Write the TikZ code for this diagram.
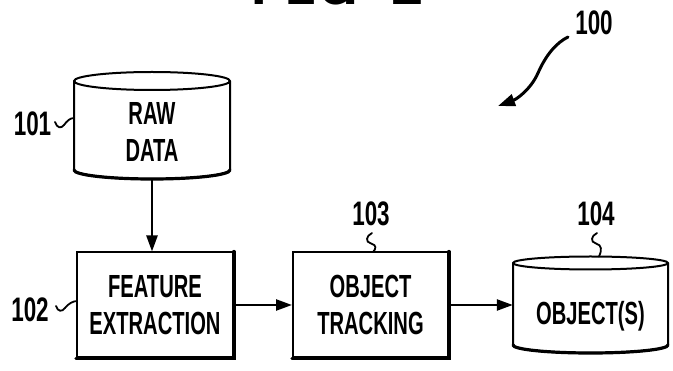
\documentclass[tikz,border=0pt]{standalone}
\usepackage{fontspec}
\usetikzlibrary{arrows.meta,calc}
\newfontfamily\boxfont[FakeStretch=0.63]{Liberation Sans Bold}
\newfontfamily\numfont[FakeStretch=0.66]{Liberation Sans Bold}
\newfontfamily\figfont{Liberation Mono Bold}
\tikzset{
  outline/.style={line width=2pt, line join=round},
  heavy/.style={line width=3.2pt, line cap=round},
  stepbox/.style={draw, line width=2pt, minimum width=156pt, minimum height=105pt,
    align=center, inner sep=0pt, font=\boxfont\fontsize{32}{37}\selectfont},
  storetext/.style={align=center, inner sep=0pt, font=\boxfont\fontsize{32}{37}\selectfont},
  refnum/.style={anchor=base, inner sep=0pt, font=\numfont\fontsize{34}{34}\selectfont},
  lead/.style={line width=1.8pt, line cap=round},
  flow/.style={line width=2.4pt, -{Triangle[length=16pt,width=11pt]}},
}
\begin{document}
\begin{tikzpicture}[x=1pt,y=-1pt]
\useasboundingbox (0,0) rectangle (673,371);
\clip (0,0) rectangle (673,371);
\fill[white] (0,0) rectangle (673,371);

% partially visible figure title
\node[anchor=base west, inner sep=0pt, font=\figfont\fontsize{57}{60}\selectfont] (fig) at (250,4.5) {FIG\kern-19pt.\kern-13pt~1};

% RAW DATA store
\node[storetext, minimum width=156pt, minimum height=94pt] (raw) at (152,132) {RAW\\DATA};
\draw[outline] (74,81) -- (74,170) arc[start angle=180,end angle=360,x radius=78pt,y radius=9pt] -- (230,81);
\draw[outline] (152,81) ellipse[x radius=78pt,y radius=9pt];
\draw[heavy] (74,170) arc[start angle=180,end angle=360,x radius=78pt,y radius=9pt];

% boxes
\node[stepbox] (fe) at (155,305) {FEATURE\\EXTRACTION};
\node[stepbox, minimum width=155pt] (tr) at (370.5,305) {OBJECT\\TRACKING};
\draw[heavy] (fe.north east) -- (fe.south east) -- (fe.south west);
\draw[heavy] (tr.north east) -- (tr.south east) -- (tr.south west);

% OBJECT(S) store
\node[storetext, minimum width=155pt, minimum height=79pt, text height=23pt, text depth=0pt] (objs) at (590.5,313.5) {OBJECT(S)};
\draw[outline] (513,263) -- (513,345) arc[start angle=180,end angle=360,x radius=77.5pt,y radius=8pt] -- (668,263);
\draw[outline] (590.5,263) ellipse[x radius=77.5pt,y radius=6.5pt];
\draw[heavy] (513,345) arc[start angle=180,end angle=360,x radius=77.5pt,y radius=8pt];

% connectors
\draw[flow] (raw.south) -- (raw.south |- fe.north);
\draw[flow] (fe.east) -- (tr.west);
\draw[flow] (tr.east) -- (tr.east -| objs.west);

% reference numerals
\node[refnum] (l100) at (594,35) {100};
\node[refnum] (l101) at (32.5,136) {101};
\node[refnum] (l102) at (30,322) {102};
\node[refnum] (l103) at (371,226) {103};
\node[refnum] (l104) at (596,226) {104};

\coordinate (t100) at (568,37);
\coordinate (h100) at (498,106);
\draw[line width=3pt, line cap=round, -{Triangle[length=17pt,width=12pt]}] (t100) .. controls (556,43) and (546,55) .. (538,73) .. controls (531,89) and (517,99) .. (h100);

\coordinate (t101) at (55,122);
\draw[lead] (t101) .. controls (57,128) and (61,129) .. (64,125) .. controls (67,121) and (70,118) .. (74,118);
\coordinate (t102) at (56,306);
\draw[lead] (t102) .. controls (58,312) and (62,312) .. (65,308) .. controls (68,304) and (73,301) .. (77,301);
\coordinate (t103) at (372,233);
\draw[lead] (t103) .. controls (366,236) and (365,242) .. (371,243.5) .. controls (377,245) and (376,249) .. (373,252);
\coordinate (t104) at (597,233);
\draw[lead] (t104) .. controls (591,236) and (590,242) .. (596,243.5) .. controls (602,245) and (602,250) .. (599,256.5);
\end{tikzpicture}
\end{document}
